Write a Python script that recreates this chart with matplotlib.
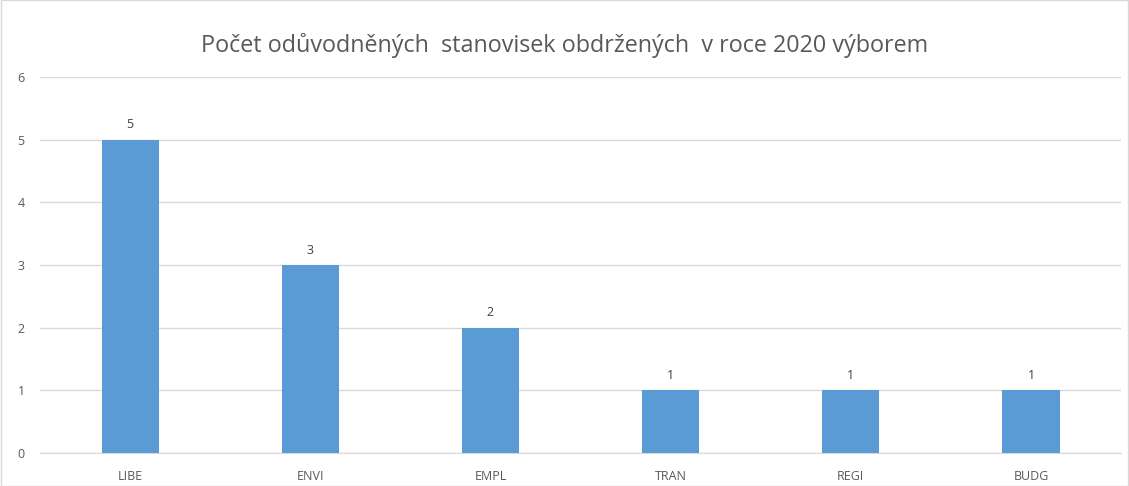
import matplotlib.pyplot as plt
import matplotlib.patches as patches

plt.rcParams['font.family'] = ['Open Sans', 'DejaVu Sans']

committees = ['LIBE', 'ENVI', 'EMPL', 'TRAN', 'REGI', 'BUDG']
counts = [5, 3, 2, 1, 1, 1]
title = 'Počet odůvodněných  stanovisek obdržených  v roce 2020 výborem'

text_color = '#595959'
bar_color = '#5B9BD5'
grid_color = '#D9D9D9'

fig = plt.figure(figsize=(11.29, 4.86), dpi=100)
ax = fig.add_axes([0.0354, 0.0679, 0.9576, 0.7737])

x = range(len(committees))
bars = ax.bar(x, counts, width=0.317, color=bar_color, zorder=3)

for rect, v in zip(bars, counts):
    ax.annotate(str(v), xy=(rect.get_x() + rect.get_width() / 2, v),
                xytext=(0, 6), textcoords='offset points',
                ha='center', va='bottom', fontsize=9, color='#404040')

ax.set_xlim(-0.5, len(committees) - 0.5)
ax.set_ylim(0, 6)
ax.set_yticks(range(7))
ax.set_xticks(list(x))
ax.set_xticklabels(committees)
ax.yaxis.grid(True, color=grid_color, linewidth=1, zorder=0)
ax.tick_params(axis='both', length=0, labelsize=9, colors=text_color)
ax.tick_params(axis='x', pad=12)
ax.tick_params(axis='y', pad=11)
for s in ['top', 'right', 'left']:
    ax.spines[s].set_visible(False)
ax.spines['bottom'].set_color(grid_color)

fig.text(0.5, 1 - 45 / 486, title, ha='center', va='center',
         fontsize=16.8, color=text_color)

fig.patches.append(patches.Rectangle((0.001, 0.001), 0.998, 0.998,
                                     transform=fig.transFigure, fill=False,
                                     edgecolor='#D9D9D9', linewidth=1))

plt.savefig('out.png', dpi=100)
